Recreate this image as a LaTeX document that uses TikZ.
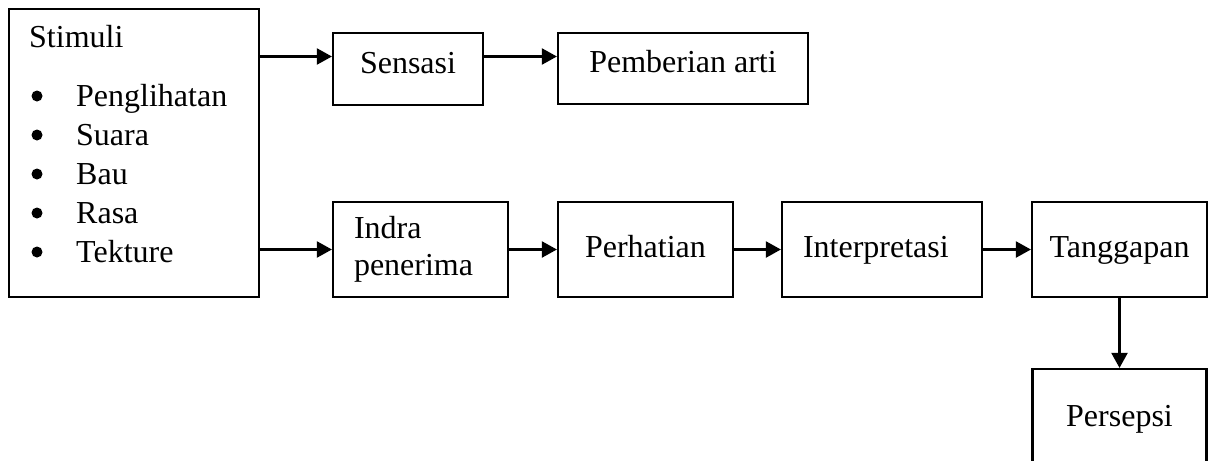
\documentclass[tikz,border=0pt]{standalone}
\usepackage{fontspec}
\setmainfont{Liberation Serif}
\usetikzlibrary{arrows.meta}
\begin{document}
\begin{tikzpicture}[x=1pt,y=-1pt,
  box/.style={draw=black, line width=2.2pt, inner sep=0pt, font=\fontsize{32}{37}\selectfont},
  toprow/.style={box, text height=20pt, text depth=11pt},
  botrow/.style={box, minimum height=95pt, text height=21pt, text depth=6pt},
  lbl/.style={anchor=base west, inner sep=0pt, font=\fontsize{32}{37}\selectfont},
  arr/.style={line width=2.2pt, -{Triangle[length=15pt,width=16pt]}},
  dot/.style={fill=black}]
\useasboundingbox (0,0) rectangle (1214,460);
% boxes
\node[box, minimum width=250pt, minimum height=288pt] (stim) at (134,153) {};
\node[toprow, minimum width=150pt, minimum height=72pt] (sens) at (408,69) {Sensasi};
\node[toprow, minimum width=250pt, minimum height=71pt] (pemb) at (683,68.5) {Pemberian arti};
\node[botrow, minimum width=175pt, text width=133pt, inner xsep=21pt, align=left, text height=, text depth=] (indra) at (420.5,249.5) {Indra\\penerima};
\node[botrow, minimum width=175pt] (perh) at (645.5,249.5) {Perhatian};
\node[botrow, minimum width=200pt, text width=158pt, inner xsep=20pt, align=left] (interp) at (882,249.5) {Interpretasi};
\node[botrow, minimum width=175pt] (tang) at (1119.5,249.5) {Tanggapan};
\node[box, minimum width=174pt, minimum height=100pt] (pers) at (1119.5,419) {Persepsi};
% stimuli list
\node[lbl] (tstim) at (29,48) {Stimuli};
\node[lbl] (i1) at (76,106) {Penglihatan};
\node[lbl] (i2) at (76,145) {Suara};
\node[lbl] (i3) at (76,184) {Bau};
\node[lbl] (i4) at (76,223) {Rasa};
\node[lbl] (i5) at (76,262) {Tekture};
\foreach \y in {96,135,174,213,252} \fill[dot] (37,\y) circle (5.5pt);
% connectors
\coordinate (toparr) at (0,56.5);
\draw[arr] (stim.east |- toparr) -- (sens.west |- toparr);
\draw[arr] (sens.east |- toparr) -- (pemb.west |- toparr);
\draw[arr] (stim.east |- indra.west) -- (indra.west);
\draw[arr] (indra) -- (perh);
\draw[arr] (perh) -- (interp);
\draw[arr] (interp) -- (tang);
\draw[arr] (tang) -- (pers);
\end{tikzpicture}
\end{document}
